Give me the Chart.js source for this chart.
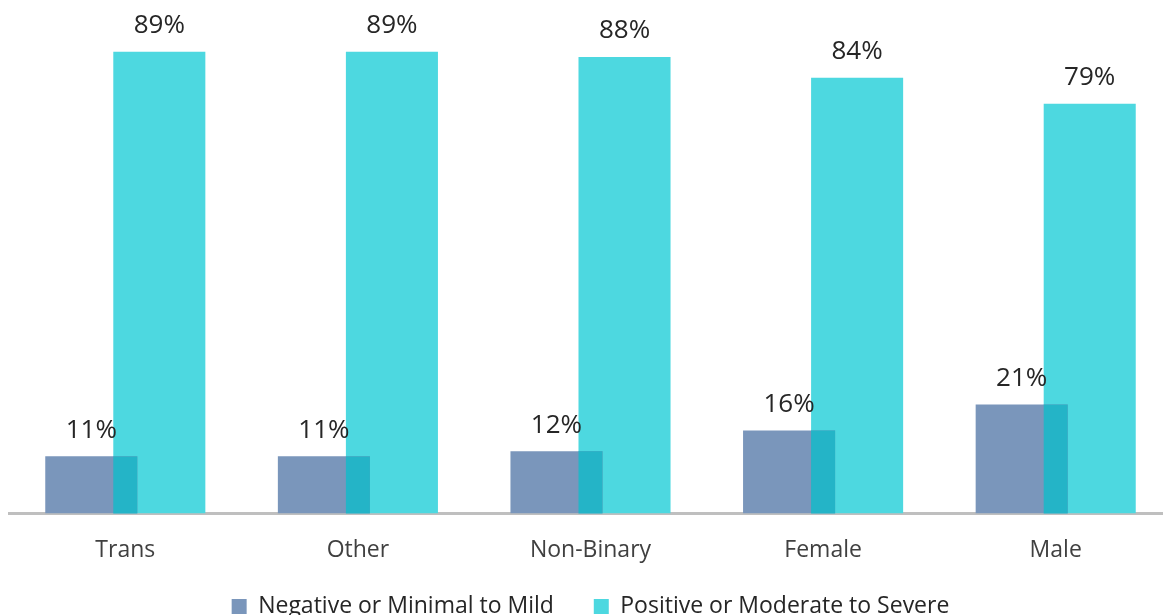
<!DOCTYPE html>
<html>
<head>
<meta charset="utf-8">
<script src="https://cdn.jsdelivr.net/npm/chart.js@4/dist/chart.umd.min.js"></script>
<style>
  html, body { margin: 0; padding: 0; background: #fff; overflow: hidden; }
  #wrap { position: relative; width: 1172px; height: 628px; }
</style>
</head>
<body>
<div id="wrap"><canvas id="chart"></canvas></div>
<script>
const CATEGORIES = [ 'Trans', 'Other', 'Non-Binary', 'Female', 'Male' ];
const NEGATIVE = [ 11, 11, 12, 16, 21 ];
const POSITIVE = [ 89, 89, 88, 84, 79 ];
const SERIES_NAMES = [ 'Negative or Minimal to Mild', 'Positive or Moderate to Severe' ];

const FONT = "'Open Sans', 'Noto Sans', sans-serif";
const OVERLAP = '#24b4c7';

// paints where the two bars of a category overlap, then the value labels
let barExtras = {
  id: 'barExtras',
  afterDatasetsDraw: function(chart) {
    let ctx = chart.ctx;
    let back = chart.getDatasetMeta(0).data;
    let front = chart.getDatasetMeta(1).data;

    ctx.save();
    for (let i = 0; i < back.length; i++) {
      let a = back[i], b = front[i];
      let left = Math.max(a.x - a.width / 2, b.x - b.width / 2);
      let right = Math.min(a.x + a.width / 2, b.x + b.width / 2);
      let top = Math.max(a.y, b.y);
      if (right > left) {
        ctx.fillStyle = OVERLAP;
        ctx.fillRect(left, top, right - left, a.base - top);
      }
    }

    ctx.fillStyle = '#262626';
    ctx.font = '26px ' + FONT;
    ctx.textAlign = 'center';
    ctx.textBaseline = 'middle';
    chart.data.datasets.forEach(function(ds, d) {
      chart.getDatasetMeta(d).data.forEach(function(bar, i) {
        ctx.fillText(ds.data[i] + '%', bar.x, bar.y - 26);
      });
    });
    ctx.restore();
  }
};

// wider gap after the first legend entry, padding alone would also push it down
let legendLabels = function(chart) {
  let items = Chart.defaults.plugins.legend.labels.generateLabels(chart);
  items[0].text += '\u00a0\u00a0\u00a0\u00a0';
  return items;
};

new Chart(document.getElementById('chart'), {
  type: 'bar',
  data: {
    labels: CATEGORIES,
    datasets: [
      { label: SERIES_NAMES[0], data: NEGATIVE, backgroundColor: '#7a96bb' },
      { label: SERIES_NAMES[1], data: POSITIVE, backgroundColor: '#4dd8e0' },
    ],
  },
  options: {
    responsive: true,
    maintainAspectRatio: false,
    animation: false,
    categoryPercentage: 0.585,
    barPercentage: 1.353,
    layout: { padding: { left: 9, right: 0, top: 0, bottom: 0 } },
    plugins: {
      tooltip: { enabled: false },
      legend: {
        position: 'bottom',
        labels: {
          color: '#262626',
          font: { family: FONT, size: 23 },
          boxWidth: 15,
          boxHeight: 15,
          padding: 16,
          generateLabels: legendLabels,
        },
      },
    },
    scales: {
      x: {
        grid: { display: false },
        border: { color: '#bfbfbf', width: 3 },
        ticks: { color: '#404040', font: { family: FONT, size: 23 }, padding: 15 },
      },
      y: { display: false, min: 0, max: 99 },
    },
  },
  plugins: [ barExtras ],
});
</script>
</body>
</html>
